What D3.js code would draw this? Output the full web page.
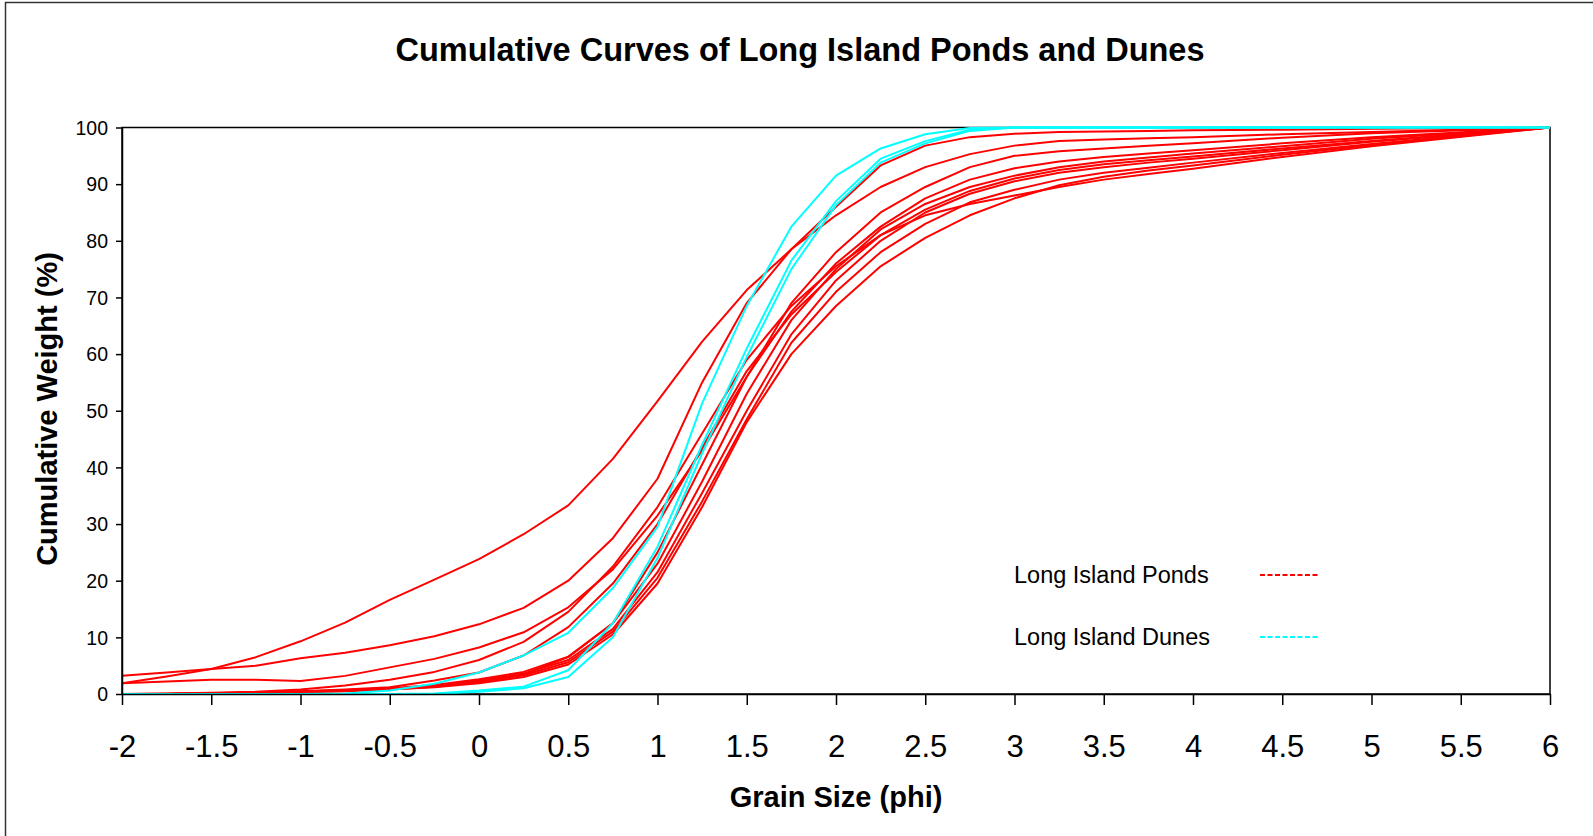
<!DOCTYPE html>
<html>
<head>
<meta charset="utf-8">
<script src="https://cdn.jsdelivr.net/npm/d3@7"></script>
<style>
  html, body { margin: 0; padding: 0; background: #fff; overflow: hidden; }
  svg { display: block; }
</style>
</head>
<body>
<svg id="chart" width="1593" height="836"></svg>
<script>
// Grain size classes (phi) at which cumulative weight was measured
const phi = [-2, -1.75, -1.5, -1.25, -1, -0.75, -0.5, -0.25, 0, 0.25, 0.5, 0.75, 1, 1.25,
             1.5, 1.75, 2, 2.25, 2.5, 2.75, 3, 3.25, 3.5, 3.75, 4, 4.5, 5, 6];

// Long Island pond samples, cumulative weight (%)
const pond1  = [1.9, 3.1, 4.4, 6.5, 9.3, 12.6, 16.6, 20.2, 23.8, 28.2, 33.3, 41.5, 51.7, 62.2, 71.3, 78.5, 84.5, 89.5, 93.0, 95.3, 96.8, 97.6, 97.9, 98.1, 98.3, 98.8, 99.2, 100];
const pond2  = [3.2, 3.8, 4.4, 5.0, 6.3, 7.3, 8.6, 10.2, 12.3, 15.2, 20.0, 27.5, 38.0, 55.0, 69.0, 78.5, 86.0, 93.3, 96.8, 98.3, 98.9, 99.2, 99.3, 99.4, 99.5, 99.6, 99.8, 100];
const pond3  = [1.9, 2.2, 2.5, 2.5, 2.3, 3.2, 4.7, 6.2, 8.2, 10.9, 15.3, 22.0, 31.5, 43.0, 56.0, 67.5, 76.0, 82.5, 87.5, 90.8, 92.8, 94.0, 94.8, 95.4, 96.0, 97.2, 98.3, 100];
const pond4  = [0, 0.1, 0.2, 0.4, 0.8, 1.5, 2.5, 3.9, 6.0, 9.2, 14.5, 22.5, 33.0, 46.0, 59.0, 68.5, 75.5, 81.0, 84.5, 86.5, 88.0, 89.5, 90.8, 91.8, 92.7, 94.8, 96.7, 100];
const pond5  = [0, 0, 0.1, 0.3, 0.5, 0.8, 1.2, 2.4, 3.8, 6.8, 11.8, 19.5, 30.0, 43.5, 57.0, 67.0, 74.5, 81.0, 85.5, 88.8, 91.0, 92.5, 93.5, 94.2, 94.9, 96.3, 97.6, 100];
const pond6  = [0, 0, 0.1, 0.2, 0.4, 0.6, 0.9, 1.3, 2.2, 3.5, 6.5, 12.5, 25.0, 40.5, 56.0, 69.0, 78.0, 85.0, 89.5, 93.0, 95.0, 95.8, 96.3, 96.8, 97.2, 98.2, 99.0, 100];
const pond7  = [0, 0, 0.1, 0.2, 0.3, 0.5, 0.8, 1.2, 1.9, 3.0, 5.2, 10.5, 19.5, 33.0, 48.0, 60.0, 68.5, 75.5, 80.5, 84.5, 87.5, 89.8, 91.3, 92.4, 93.3, 95.2, 96.9, 100];
const pond8  = [0, 0, 0.1, 0.2, 0.35, 0.55, 0.85, 1.3, 2.1, 3.3, 5.6, 11.0, 20.5, 34.0, 48.5, 62.0, 71.0, 78.0, 83.0, 86.8, 89.0, 90.8, 92.0, 92.9, 93.8, 95.5, 97.1, 100];
const pond9  = [0, 0, 0.1, 0.25, 0.4, 0.6, 0.9, 1.4, 2.4, 3.6, 6.0, 11.5, 21.5, 35.5, 50.0, 63.5, 73.0, 80.0, 85.0, 88.3, 90.5, 92.0, 93.0, 93.8, 94.5, 96.0, 97.5, 100];
const pond10 = [0, 0.05, 0.15, 0.3, 0.45, 0.7, 1.0, 1.6, 2.6, 3.9, 6.6, 12.5, 23.0, 37.5, 53.0, 66.0, 75.0, 82.0, 86.5, 89.5, 91.5, 93.0, 94.0, 94.7, 95.4, 96.7, 98.0, 100];

// Long Island dune samples, cumulative weight (%)
const dune1 = [0, 0, 0, 0, 0, 0.1, 0.6, 1.8, 3.8, 6.8, 10.8, 18.7, 29.5, 51.3, 68.5, 82.5, 91.5, 96.3, 98.8, 99.9, 100, 100, 100, 100, 100, 100, 100, 100];
const dune2 = [0, 0, 0, 0, 0, 0, 0, 0.1, 0.6, 1.3, 4.2, 12.5, 26.0, 44.0, 61.0, 76.5, 87.0, 94.5, 97.6, 99.6, 100, 100, 100, 100, 100, 100, 100, 100];
const dune3 = [0, 0, 0, 0, 0, 0, 0, 0, 0.4, 1.0, 3.0, 10.0, 24.0, 42.5, 59.5, 75.0, 86.3, 93.8, 97.2, 99.4, 100, 100, 100, 100, 100, 100, 100, 100];

const pondSeries = [pond1, pond2, pond3, pond4, pond5, pond6, pond7, pond8, pond9, pond10];
const duneSeries = [dune1, dune2, dune3];

const xTicks = [-2, -1.5, -1, -0.5, 0, 0.5, 1, 1.5, 2, 2.5, 3, 3.5, 4, 4.5, 5, 5.5, 6];
const yTicks = [0, 10, 20, 30, 40, 50, 60, 70, 80, 90, 100];

const legendLabels = ["Long Island Ponds", "Long Island Dunes"];
const legendColors = ["#ff0000", "#00ffff"];

const FONT = "'Liberation Sans', Arial, sans-serif";

const svg = d3.select("#chart");

// outer chart frame
svg.append("rect")
  .attr("x", 5.5).attr("y", 2.5)
  .attr("width", 1620).attr("height", 900)
  .attr("fill", "#fff")
  .attr("stroke", "#333").attr("stroke-width", 1.5);

const plot = { left: 122, right: 1550, top: 127.5, bottom: 694 };

const x = d3.scaleLinear().domain([-2, 6]).range([plot.left, plot.right]);
const y = d3.scaleLinear().domain([0, 100]).range([plot.bottom, plot.top]);

// plot area border (top and right edges)
svg.append("rect")
  .attr("x", plot.left).attr("y", plot.top)
  .attr("width", plot.right - plot.left).attr("height", plot.bottom - plot.top)
  .attr("fill", "none").attr("stroke", "#000").attr("stroke-width", 1.5);

// cumulative curves
const line = d3.line()
  .x((d, i) => x(phi[i]))
  .y(d => y(d));

const curves = svg.append("g").attr("fill", "none").attr("stroke-width", 2)
  .attr("stroke-linejoin", "round");

curves.selectAll("path.pond")
  .data(pondSeries)
  .join("path")
  .attr("class", "pond")
  .attr("stroke", legendColors[0])
  .attr("d", line);

curves.selectAll("path.dune")
  .data(duneSeries)
  .join("path")
  .attr("class", "dune")
  .attr("stroke", legendColors[1])
  .attr("d", line);

// axes
const xAxis = svg.append("g")
  .attr("transform", `translate(0,${plot.bottom})`)
  .call(d3.axisBottom(x).tickValues(xTicks).tickSize(11).tickSizeOuter(0)
    .tickFormat(d => String(d)));

const yAxis = svg.append("g")
  .attr("transform", `translate(${plot.left},0)`)
  .call(d3.axisLeft(y).tickValues(yTicks).tickSize(6).tickSizeOuter(0)
    .tickFormat(d => String(d)));

[xAxis, yAxis].forEach(g => {
  g.select(".domain").attr("stroke", "#000").attr("stroke-width", 1.5);
  g.selectAll(".tick line").attr("stroke", "#000").attr("stroke-width", 1.5);
  g.selectAll("text").attr("fill", "#000").attr("font-family", FONT);
});

xAxis.selectAll("text")
  .attr("font-size", 31)
  .attr("y", 0).attr("dy", 0)
  .attr("transform", "translate(0,63)");

yAxis.selectAll("text")
  .attr("font-size", 19.5)
  .attr("x", -14)
  .attr("dy", "0.35em");

// titles
svg.append("text")
  .attr("x", 800).attr("y", 61)
  .attr("text-anchor", "middle")
  .attr("font-family", FONT).attr("font-weight", "bold").attr("font-size", 32.5)
  .text("Cumulative Curves of Long Island Ponds and Dunes");

svg.append("text")
  .attr("x", 836).attr("y", 807)
  .attr("text-anchor", "middle")
  .attr("font-family", FONT).attr("font-weight", "bold").attr("font-size", 29)
  .text("Grain Size (phi)");

svg.append("text")
  .attr("transform", "translate(57,409) rotate(-90)")
  .attr("text-anchor", "middle")
  .attr("font-family", FONT).attr("font-weight", "bold").attr("font-size", 29)
  .text("Cumulative Weight (%)");

// legend
const legend = svg.append("g");
const legendRows = legend.selectAll("g")
  .data(legendLabels)
  .join("g")
  .attr("transform", (d, i) => `translate(0,${575 + i * 62})`);

legendRows.append("text")
  .attr("x", 1014).attr("y", 8)
  .attr("font-family", FONT).attr("font-size", 23.5)
  .attr("fill", "#000")
  .text(d => d);

legendRows.append("line")
  .attr("x1", 1260).attr("x2", 1320)
  .attr("y1", 0).attr("y2", 0)
  .attr("stroke", (d, i) => legendColors[i])
  .attr("stroke-width", 2)
  .attr("stroke-dasharray", "5,2.5");
</script>
</body>
</html>
